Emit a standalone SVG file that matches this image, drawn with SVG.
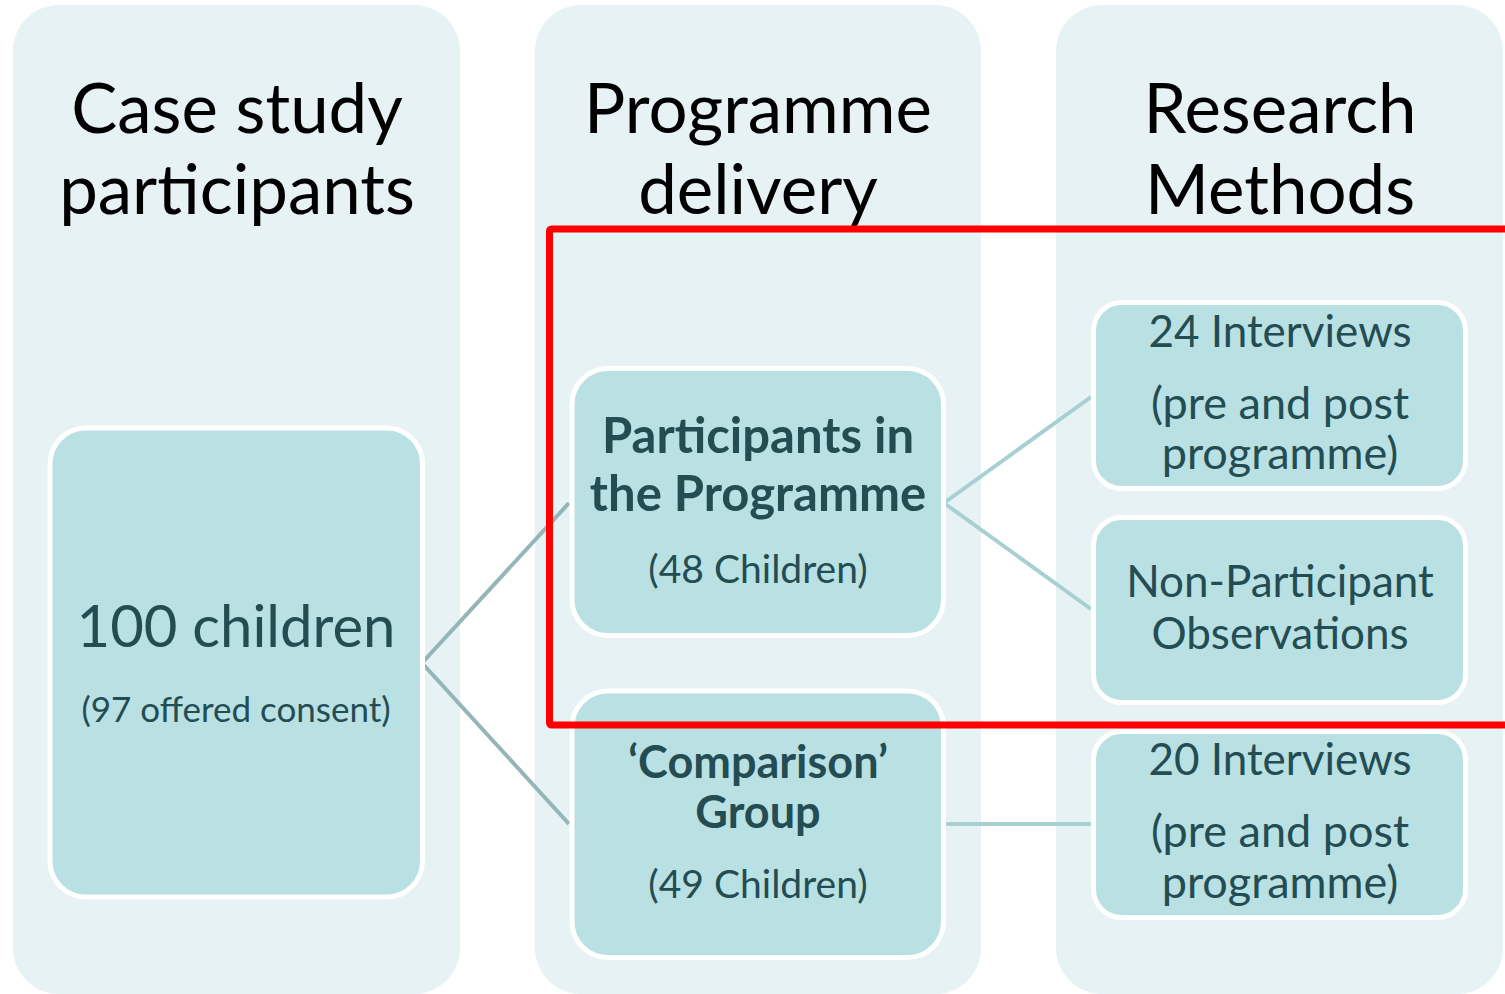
<svg xmlns="http://www.w3.org/2000/svg" width="1505" height="994" viewBox="0 0 1505 994">
  <style>
    .col { fill: #e6f2f4; }
    .node { fill: #b9e0e3; stroke: #ffffff; stroke-width: 5; }
    .head { font-family: Lato, "Liberation Sans", sans-serif; font-size: 69px; fill: #000000; text-anchor: middle; }
    .lbl { font-family: Lato, "Liberation Sans", sans-serif; fill: #234d52; text-anchor: middle; }
    .b { font-weight: bold; }
    .link-l { stroke: #94b6b8; stroke-width: 4; fill: none; }
    .link-r { stroke: #a8d0d3; stroke-width: 4; fill: none; }
    .focus { fill: none; stroke: #ff0000; stroke-width: 7; stroke-linejoin: round; }
  </style>
  <rect width="1505" height="994" fill="#ffffff"/>

  <!-- column backgrounds -->
  <g id="columns">
    <rect class="col" x="13" y="5" width="447" height="989" rx="46"/>
    <rect class="col" x="535" y="5" width="446" height="989" rx="46"/>
    <rect class="col" x="1056" y="5" width="447" height="989" rx="46"/>
  </g>
  <g id="col1-head">
    <text class="head" x="237" y="133">Case study</text>
    <text class="head" x="237" y="214">participants</text>
  </g>
  <g id="col2-head">
    <text class="head" x="758" y="133">Programme</text>
    <text class="head" x="758" y="214">delivery</text>
  </g>
  <g id="col3-head">
    <text class="head" x="1280" y="133">Research</text>
    <text class="head" x="1280" y="214">Methods</text>
  </g>

  <!-- connectors -->
  <g id="connectors">
    <polyline class="link-l" points="569,503 422,663 569,824"/>
    <polyline class="link-r" points="1091,397 944,503 1091,609"/>
    <line class="link-r" x1="944" y1="824" x2="1091" y2="824"/>
  </g>

  <g id="node-children">
    <rect class="node" x="50" y="428" width="372.5" height="469" rx="36"/>
    <text class="lbl" x="236" y="647" font-size="58">100 children</text>
    <text class="lbl" x="236" y="722" font-size="35">(97 offered consent)</text>
  </g>

  <g id="node-participants">
    <rect class="node" x="572" y="368.5" width="371.5" height="267" rx="36"/>
    <text class="lbl b" x="758" y="453" font-size="49">Participants in</text>
    <text class="lbl b" x="758" y="511" font-size="49">the Programme</text>
    <text class="lbl" x="758" y="583" font-size="39">(48 Children)</text>
  </g>

  <g id="node-comparison">
    <rect class="node" x="572" y="691" width="371.5" height="266.5" rx="36"/>
    <text class="lbl b" x="758" y="778" font-size="45">‘Comparison’</text>
    <text class="lbl b" x="758" y="828" font-size="45">Group</text>
    <text class="lbl" x="758" y="898" font-size="39">(49 Children)</text>
  </g>

  <g id="node-interviews-24">
    <rect class="node" x="1093.5" y="302.5" width="372" height="186" rx="28"/>
    <text class="lbl" x="1280" y="347" font-size="44">24 Interviews</text>
    <text class="lbl" x="1280" y="419" font-size="45">(pre and post</text>
    <text class="lbl" x="1280" y="469" font-size="45">programme)</text>
  </g>

  <g id="node-observations">
    <rect class="node" x="1093.5" y="517.5" width="372" height="185" rx="28"/>
    <text class="lbl" x="1280" y="597" font-size="44">Non-Participant</text>
    <text class="lbl" x="1280" y="649" font-size="44">Observations</text>
  </g>

  <g id="node-interviews-20">
    <rect class="node" x="1093.5" y="731.5" width="372" height="186" rx="28"/>
    <text class="lbl" x="1280" y="775" font-size="44">20 Interviews</text>
    <text class="lbl" x="1280" y="847" font-size="45">(pre and post</text>
    <text class="lbl" x="1280" y="898" font-size="45">programme)</text>
  </g>

  <!-- highlight frame around the programme participants -->
  <g id="highlight">
    <rect class="focus" x="549.5" y="229" width="980" height="496" rx="2"/>
  </g>
</svg>
